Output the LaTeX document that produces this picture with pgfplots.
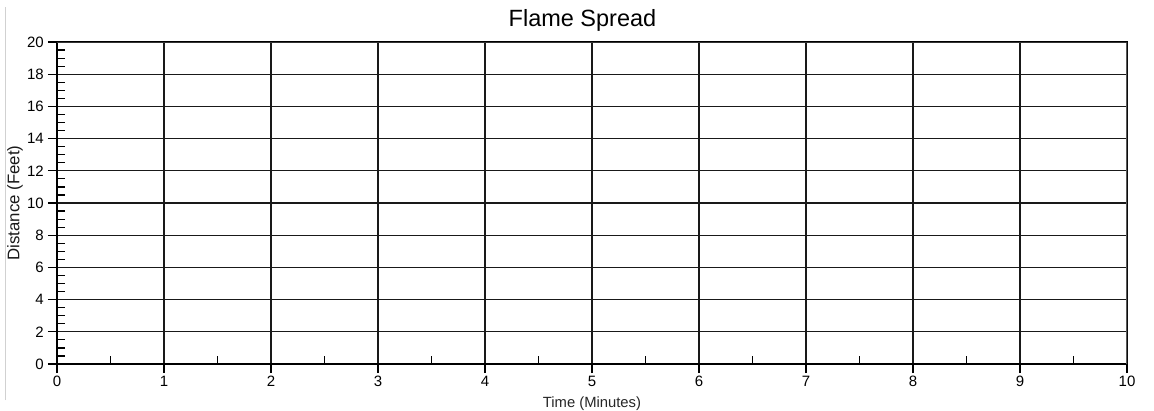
\documentclass[border=0pt]{standalone}
\usepackage{fontspec}
\setmainfont{Liberation Sans}
\usepackage{pgfplots}
\pgfplotsset{compat=1.18}
\begin{document}
\begin{tikzpicture}
\begin{axis}[
  at={(0pt,0pt)}, anchor=south west,
  scale only axis, width=1070pt, height=322pt,
  xmin=0, xmax=10, ymin=0, ymax=20,
  xtick={0,1,...,10}, ytick={0,2,...,20},
  minor x tick num=1, minor y tick num=3,
  xtick pos=left, ytick pos=left,
  tick align=outside,
  major tick length=9pt, minor tick length=8pt,
  every major tick/.append style={black, line width=1.2pt},
  minor x tick style={black, line width=1.2pt, yshift=8pt},
  minor y tick style={black, line width=1.2pt, xshift=8pt},
  grid=major,
  major grid style={black!90, line width=1.2pt},
  axis line style={black, line width=1.5pt},
  /pgf/number format/assume math mode=true,
  tick label style={font=\fontsize{15}{15}\selectfont, text=black},
  xticklabel style={inner sep=2.5pt},
  yticklabel style={inner sep=4pt},
  xlabel={Time (Minutes)},
  ylabel={Distance (Feet)},
  xlabel style={font=\fontsize{14.8}{14.8}\selectfont, at={(axis description cs:0.5,0)}, anchor=center, yshift=-40pt, text=black!85},
  ylabel style={font=\fontsize{16.8}{16.8}\selectfont, at={(axis description cs:-0.03925,0.5)}, anchor=center, text=black!90},
  title={Flame Spread},
  title style={font=\fontsize{23.5}{23.5}\selectfont, at={(axis description cs:0.5,1)}, anchor=base, yshift=10pt, xshift=-9.5pt},
]
\addplot[draw=none, forget plot] coordinates {(0,0) (10,20)};
\draw[black!65, line width=2.2pt] (rel axis cs:1,0) -- (rel axis cs:1,1);
\draw[black!80, line width=1.8pt] (rel axis cs:0,1) -- (rel axis cs:1,1);
\end{axis}
\draw[black!18, line width=1pt] (-51pt,-36pt) -- (-51pt,357pt);
\pgfresetboundingbox
\path (-57pt,-46pt) rectangle (1097pt,364pt);
\end{tikzpicture}
\end{document}
